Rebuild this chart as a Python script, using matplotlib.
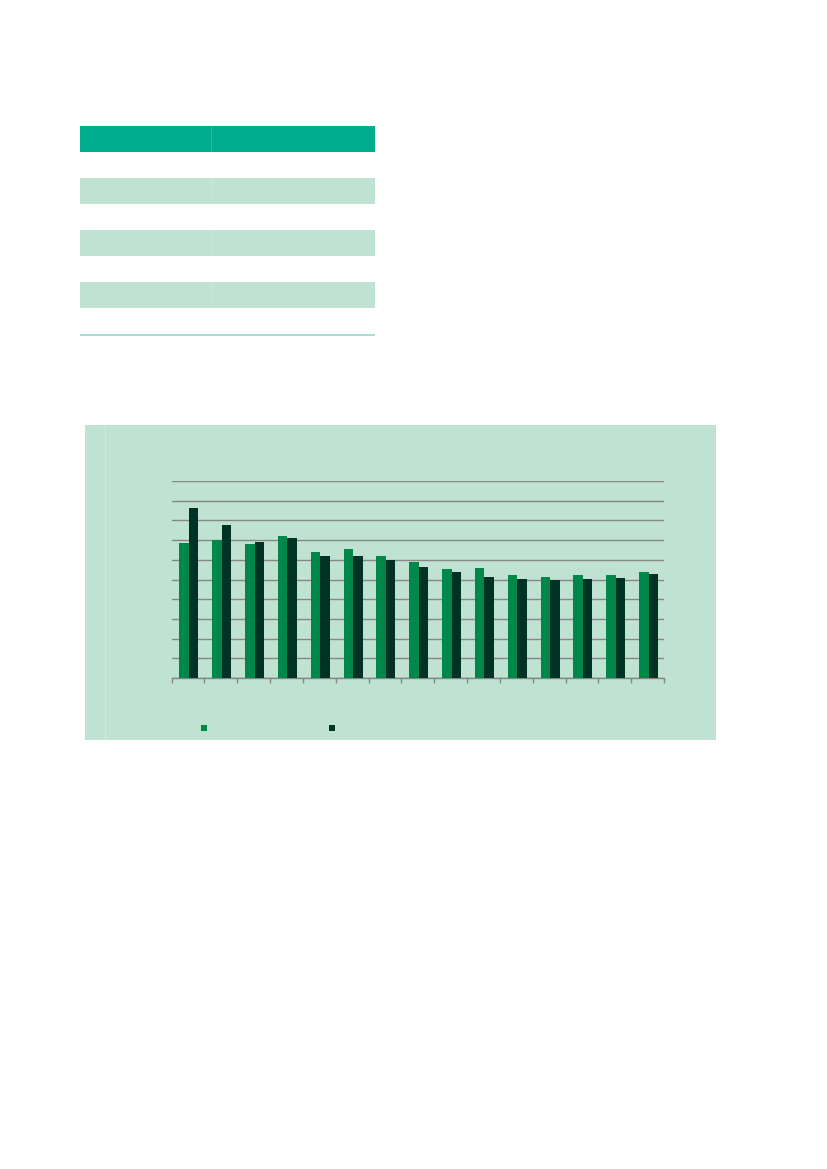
import matplotlib
matplotlib.use("Agg")
import matplotlib.pyplot as plt
from matplotlib.patches import Rectangle, Patch
import numpy as np

W, H = 827, 1169

# chart data (grid step = 1)
categories = list(range(15))
series_a = [6.87, 6.99, 6.80, 7.22, 6.40, 6.55, 6.21, 5.89, 5.55, 5.57, 5.23, 5.14, 5.23, 5.23, 5.38]
series_b = [8.63, 7.77, 6.89, 7.11, 6.21, 6.21, 5.97, 5.62, 5.40, 5.14, 5.04, 4.97, 5.04, 5.08, 5.28]
series_names = ["", ""]

# table row fills (header, then body rows)
table_rows = ["header", "plain", "shade", "plain", "shade", "plain", "shade", "plain"]
col_edges = [80, 211, 375]

green = "#00884b"
dark = "#003326"
panel = "#c0e2d3"
header = "#00ae8f"


def fx(px):
    return px / W


def fy(py):
    return 1 - py / H


fig = plt.figure(figsize=(W / 100, H / 100), dpi=100)
fig.patch.set_facecolor("white")

# table
row_top = 126
row_h = 26
fills = {"header": header, "shade": panel, "plain": "white"}
for i, kind in enumerate(table_rows):
    y0 = row_top + i * row_h
    fig.add_artist(Rectangle((fx(col_edges[0]), fy(y0 + row_h)), fx(col_edges[-1] - col_edges[0]),
                             row_h / H, transform=fig.transFigure, facecolor=fills[kind],
                             edgecolor="none", zorder=1))
    if kind != "plain":
        fig.add_artist(Rectangle((fx(col_edges[1]), fy(y0 + row_h)), 1 / W, row_h / H,
                                 transform=fig.transFigure, facecolor="white", alpha=0.15,
                                 edgecolor="none", zorder=2))
bottom = row_top + len(table_rows) * row_h
fig.add_artist(Rectangle((fx(col_edges[0]), fy(bottom + 1.5)), fx(col_edges[-1] - col_edges[0]),
                         1.5 / H, transform=fig.transFigure, facecolor="#a6dfd5",
                         edgecolor="none", zorder=2))

# chart panel
fig.add_artist(Rectangle((fx(85), fy(740)), fx(716 - 85), (740 - 425) / H,
                         transform=fig.transFigure, facecolor=panel, edgecolor="none", zorder=0))
fig.add_artist(Rectangle((fx(105), fy(740)), 1 / W, (740 - 425) / H,
                         transform=fig.transFigure, facecolor="white", alpha=0.25,
                         edgecolor="none", zorder=0))

ax = fig.add_axes([fx(171.5), fy(678), fx(664 - 171.5), (678 - 481) / H])
ax.set_facecolor("none")
x = np.array(categories)
w = 0.29
ax.bar(x - w / 2 + 0.03, series_a, width=w, color=green, label=series_names[0], zorder=3)
ax.bar(x + w / 2 + 0.03, series_b, width=w, color=dark, label=series_names[1], zorder=3)
ax.set_xlim(-0.5, len(categories) - 0.5)
ax.set_ylim(0, 10)
ax.set_yticks(np.arange(0, 11, 1))
ax.yaxis.grid(True, color="#868686", linewidth=1.0)
ax.set_axisbelow(True)
for s in ["top", "right", "left"]:
    ax.spines[s].set_visible(False)
ax.spines["bottom"].set_color("#868686")
ax.spines["bottom"].set_linewidth(1.0)
ax.set_xticks([])
ax.set_xticks(np.arange(-0.5, len(categories), 1), minor=True)
ax.tick_params(axis="x", which="minor", length=3.5, width=1.0, color="#868686", labelbottom=False)
ax.tick_params(axis="y", length=0, labelleft=False)

handles = [Patch(facecolor=green), Patch(facecolor=dark)]
fig.legend(handles, series_names, loc="upper left", bbox_to_anchor=(fx(201), fy(723.5)),
           ncol=2, frameon=False, fontsize=6, handlelength=0.72, handleheight=0.72,
           handletextpad=0, columnspacing=14.6, borderpad=0, borderaxespad=0)

fig.savefig("out.png", dpi=100, facecolor="white")
